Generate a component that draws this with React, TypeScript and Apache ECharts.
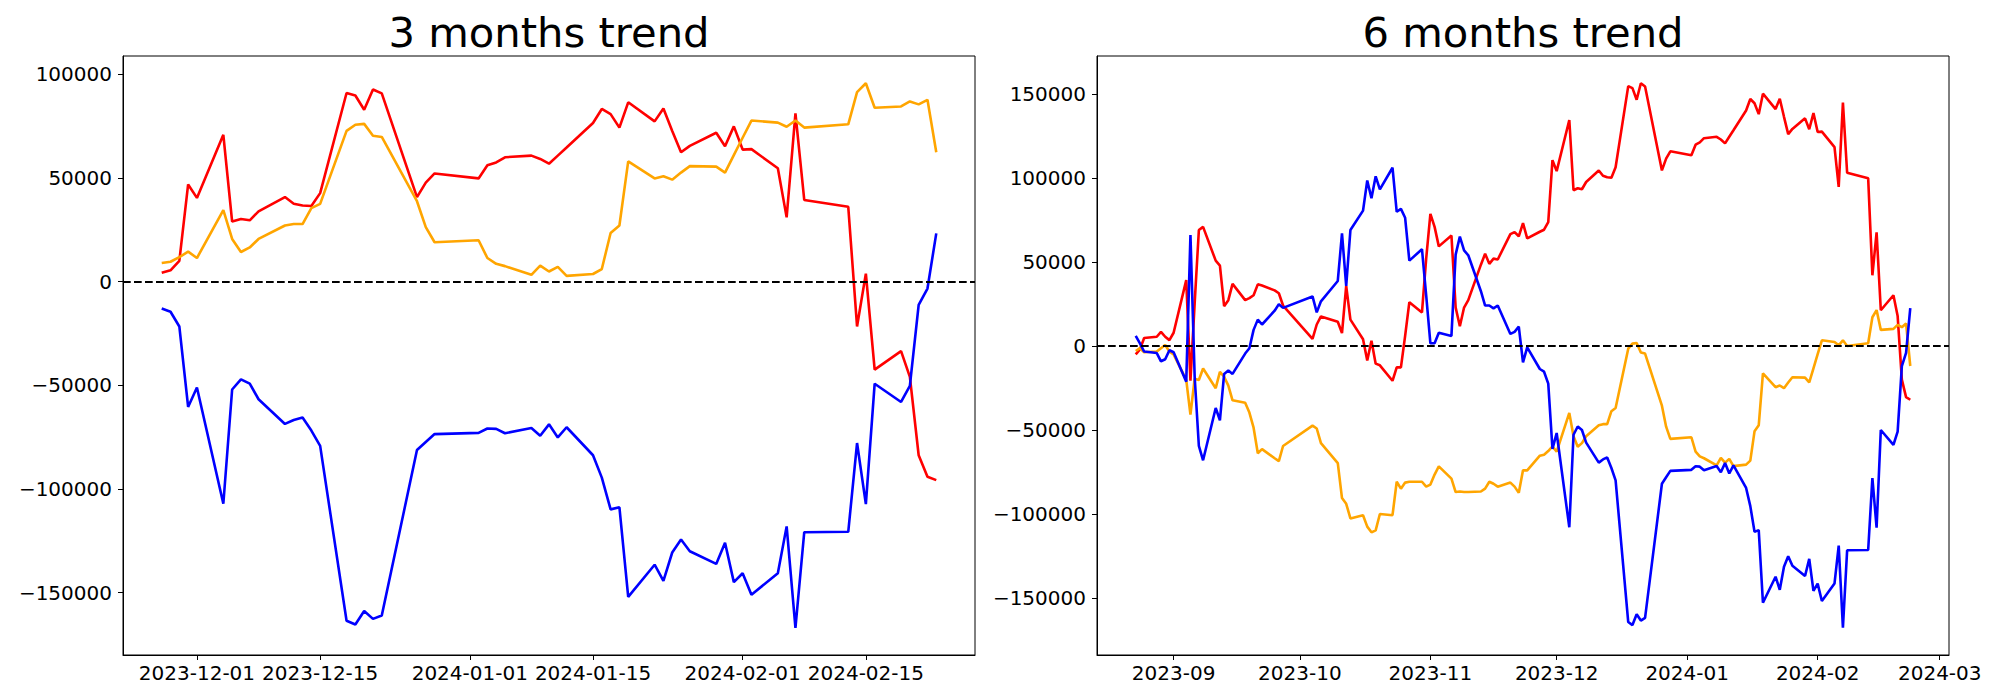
import React, { useEffect, useRef } from "react";
import * as echarts from "echarts";

// ---------- data: 3 months ----------
const dates3m = [
  "2023-11-27", "2023-11-28", "2023-11-29", "2023-11-30", "2023-12-01",
  "2023-12-04", "2023-12-05", "2023-12-06", "2023-12-07", "2023-12-08",
  "2023-12-11", "2023-12-12", "2023-12-13", "2023-12-14", "2023-12-15",
  "2023-12-18", "2023-12-19", "2023-12-20", "2023-12-21", "2023-12-22",
  "2023-12-26", "2023-12-27", "2023-12-28",
  "2024-01-02", "2024-01-03", "2024-01-04", "2024-01-05",
  "2024-01-08", "2024-01-09", "2024-01-10", "2024-01-11", "2024-01-12",
  "2024-01-15", "2024-01-16", "2024-01-17", "2024-01-18", "2024-01-19",
  "2024-01-22", "2024-01-23", "2024-01-24", "2024-01-25", "2024-01-26",
  "2024-01-29", "2024-01-30", "2024-01-31", "2024-02-01", "2024-02-02",
  "2024-02-05", "2024-02-06", "2024-02-07", "2024-02-08",
  "2024-02-13", "2024-02-14", "2024-02-15", "2024-02-16",
  "2024-02-19", "2024-02-20", "2024-02-21", "2024-02-22", "2024-02-23",
];
const red3m = [
  4300, 5500, 10000, 46900, 40400, 70800, 29000, 30200, 29600, 33900,
  40800, 37600, 36700, 36500, 42700, 91000, 89800, 82900, 92700, 90800,
  40800, 47800, 52200, 49800, 56100, 57500, 60000, 60800, 59200, 56900,
  60800, 64700, 76500, 83300, 80800, 74300, 86500, 77300, 83500, 72700,
  62400, 65500, 71800, 65300, 74900, 63700, 63900, 54700, 31000, 81200,
  39400, 36100, -21600, 3900, -42400, -33500, -45900, -83700, -94100, -95700,
];
const orange3m = [
  9000, 9600, 11800, 14500, 11400, 34500, 20600, 14300, 16500, 20600,
  27100, 27800, 27800, 35500, 37500, 72700, 75700, 76100, 70400, 69800,
  38800, 26300, 19000, 20000, 11400, 8600, 7500, 3300, 7700, 4900,
  7100, 2800, 3700, 6100, 23500, 27100, 58000, 49800, 50800, 49200,
  52600, 55700, 55500, 52600, 61000, 69400, 77700, 76700, 74700, 77700,
  74300, 75900, 91400, 95700, 83900, 84500, 86900, 85500, 87700, 62400,
];
const blue3m = [
  -12900, -14500, -21600, -60400, -51000, -107100, -52000, -47100, -49200, -56700,
  -68600, -66700, -65500, -71800, -79200, -163500, -165300, -158800, -162600, -161000,
  -81200, -77300, -73500, -72900, -70800, -71000, -73100, -70600, -74300, -68800,
  -75100, -70200, -83700, -94500, -109800, -108800, -152000, -136500, -144300, -130600,
  -124300, -130000, -136100, -125900, -144900, -140600, -151000, -140600, -118000, -166900,
  -120800, -120600, -77800, -107300, -49200, -58000, -50200, -11200, -3300, 23300,
];

// ---------- data: 6 months ----------
const dates6mHead = [
  "2023-08-23", "2023-08-24", "2023-08-25",
  "2023-08-28", "2023-08-29", "2023-08-30", "2023-08-31", "2023-09-01",
  "2023-09-04", "2023-09-05", "2023-09-06", "2023-09-07", "2023-09-08",
  "2023-09-11", "2023-09-12", "2023-09-13", "2023-09-14", "2023-09-15",
  "2023-09-18", "2023-09-19", "2023-09-20", "2023-09-21", "2023-09-22",
  "2023-09-25", "2023-09-26", "2023-09-27",
  "2023-10-04", "2023-10-05", "2023-10-06",
  "2023-10-10", "2023-10-11", "2023-10-12", "2023-10-13",
  "2023-10-16", "2023-10-17", "2023-10-18", "2023-10-19", "2023-10-20",
  "2023-10-23", "2023-10-24", "2023-10-25", "2023-10-26", "2023-10-27",
  "2023-10-30", "2023-10-31", "2023-11-01", "2023-11-02", "2023-11-03",
  "2023-11-06", "2023-11-07", "2023-11-08", "2023-11-09", "2023-11-10",
  "2023-11-13", "2023-11-14", "2023-11-15", "2023-11-16", "2023-11-17",
  "2023-11-20", "2023-11-21", "2023-11-22", "2023-11-23", "2023-11-24",
];
const dates6m = [...dates6mHead, ...dates3m];
const red6m = [
  -4900, -1900, 4900, 5600, 8500, 5600, 3600, 8000, 39300, -20600,
  25500, 69100, 71000, 50900, 48000, 23800, 27400, 37100, 27400, 28600,
  30300, 36800, 36100, 33200, 31500, 24200, 4400, 12900, 17700, 14500,
  7800, 35900, 15800, 4100, -8500, 3200, -10400, -11400, -20600, -12600,
  -12600, 6100, 26200, 20100, 52100, 78800, 71000, 59400, 65900, 23000,
  11900, 23000, 27400, 48500, 55000, 49000, 52100, 51600, 66700, 67900,
  65400, 73200, 64200,
  68100, 69300, 73800, 110700, 104200, 134600, 92800, 94000, 93400, 97700,
  104600, 101400, 100500, 100300, 106500, 154800, 153600, 146700, 156500, 154600,
  104600, 111600, 116000, 113600, 119900, 121300, 123800, 124600, 123000, 120700,
  124600, 128500, 140300, 147100, 144600, 138100, 150300, 141100, 147300, 136500,
  126200, 129300, 135600, 129100, 138700, 127500, 127700, 118500, 94800, 145000,
  103200, 99900, 42200, 67700, 21400, 30300, 17900, -19900, -30300, -31900,
];
const orange6m = [
  -2900, -1200, -3600, -3200, -1200, 700, -3200, -4900, -20100, -40700,
  -19400, -20100, -13300, -25000, -15300, -18200, -23500, -32200, -33700, -39500,
  -48500, -63700, -61300, -66700, -68400, -59400, -47300, -49000, -57700, -69600,
  -90400, -93800, -102500, -100600, -107400, -110800, -109600, -99900, -100600, -80700,
  -84800, -81200, -80700, -80700, -83600, -82400, -76400, -71500, -78800, -86800,
  -86500, -86800, -86800, -86500, -84800, -80700, -81900, -83600, -81200, -83600,
  -87300, -73900, -73900,
  -65200, -64600, -62400, -59700, -62800, -39700, -53600, -59900, -57700, -53600,
  -47100, -46400, -46400, -38700, -36800, -1500, 1500, 1900, -3800, -4400,
  -35400, -47900, -55200, -54200, -62800, -65600, -66700, -70900, -66500, -69300,
  -67100, -71400, -70500, -68100, -50700, -47100, -16200, -24400, -23400, -25000,
  -21600, -18500, -18700, -21600, -13200, -4800, 3500, 2500, 500, 3500,
  100, 1700, 17200, 21500, 9700, 10300, 12700, 11300, 13500, -11800,
];
const blue6m = [
  6100, 1700, -3200, -4100, -9000, -7800, -2400, -3600, -21100, 66200,
  -18200, -59400, -67900, -36800, -44100, -16500, -14500, -16500, -4400, -1200,
  9700, 15800, 12900, 21100, 25000, 22800, 29600, 20100, 26700, 38800,
  67100, 35900, 69100, 80700, 98600, 88000, 101100, 93300, 106200, 80000,
  81700, 76400, 50900, 57700, 30300, 1700, 1700, 8000, 6100, 54500,
  65200, 57000, 54100, 32700, 24200, 24200, 22500, 24200, 7300, 8500,
  11600, -9700, -700,
  -13600, -15200, -22300, -61100, -51700, -107800, -52700, -47800, -49900, -57400,
  -69300, -67400, -66200, -72500, -79900, -164200, -166000, -159500, -163300, -161700,
  -81900, -78000, -74200, -73600, -71500, -71700, -73800, -71300, -75000, -69500,
  -75800, -70900, -84400, -95200, -110500, -109500, -152700, -137200, -145000, -131300,
  -125000, -130700, -136800, -126600, -145600, -141300, -151700, -141300, -118700, -167600,
  -121500, -121300, -78500, -108000, -49900, -58700, -50900, -11900, -4000, 22600,
];

// ---------- ticks / labels ----------
const xTicks3m = ["2023-12-01", "2023-12-15", "2024-01-01", "2024-01-15", "2024-02-01", "2024-02-15"];
const xTicks6m = ["2023-09-01", "2023-10-01", "2023-11-01", "2023-12-01", "2024-01-01", "2024-02-01", "2024-03-01"];
const yTicks3m = [-150000, -100000, -50000, 0, 50000, 100000];
const yTicks6m = [-150000, -100000, -50000, 0, 50000, 100000, 150000];
const titles = ["3 months trend", "6 months trend"];
const seriesColors = ["#ff0000", "#ffa500", "#0000ff"];

const FONT = "DejaVu Sans";

const toTs = (s: string) => {
  const [y, m, d] = s.split("-").map(Number);
  return Date.UTC(y, m - 1, d);
};
const pad2 = (n: number) => String(n).padStart(2, "0");
const fmtDay = (v: number) => {
  const d = new Date(v);
  return `${d.getUTCFullYear()}-${pad2(d.getUTCMonth() + 1)}-${pad2(d.getUTCDate())}`;
};
const fmtMonth = (v: number) => {
  const d = new Date(v);
  return `${d.getUTCFullYear()}-${pad2(d.getUTCMonth() + 1)}`;
};
const fmtNum = (v: number) => (v < 0 ? "\u2212" + Math.abs(v) : String(v));

function dataRange(arrs: number[][]) {
  let lo = Infinity;
  let hi = -Infinity;
  arrs.forEach((a) => a.forEach((v) => { lo = Math.min(lo, v); hi = Math.max(hi, v); }));
  const m = (hi - lo) * 0.05;
  return [lo - m, hi + m];
}

function buildPanel(
  idx: number,
  dates: string[],
  vals: number[][],
  xTicks: string[],
  yTicks: number[],
  fmtX: (v: number) => string
) {
  const ts = dates.map(toTs);
  const span = ts[ts.length - 1] - ts[0];
  const [yMin, yMax] = dataRange(vals);
  const tickStyle = { show: true, length: 5, inside: false, lineStyle: { color: "#000", width: 1 } };
  const labelBase = { fontSize: 20, fontFamily: FONT, color: "#000", showMinLabel: true, showMaxLabel: true, hideOverlap: false };
  const xAxis = {
    type: "value",
    gridIndex: idx,
    min: ts[0] - span * 0.05,
    max: ts[ts.length - 1] + span * 0.05,
    axisLine: { show: true, onZero: false, lineStyle: { color: "#000", width: 1 } },
    axisTick: { ...tickStyle, customValues: xTicks.map(toTs) },
    axisLabel: { ...labelBase, margin: 8, customValues: xTicks.map(toTs), formatter: fmtX },
    splitLine: { show: false },
  };
  const yAxis = {
    type: "value",
    gridIndex: idx,
    min: yMin,
    max: yMax,
    axisLine: { show: true, onZero: false, lineStyle: { color: "#000", width: 1 } },
    axisTick: { ...tickStyle, customValues: yTicks },
    axisLabel: { ...labelBase, margin: 11, customValues: yTicks, formatter: fmtNum },
    splitLine: { show: false },
  };
  const series = vals.map((arr, k) => ({
    type: "line",
    xAxisIndex: idx,
    yAxisIndex: idx,
    data: ts.map((t, i) => [t, arr[i]]),
    showSymbol: false,
    symbol: "none",
    lineStyle: { width: 2.6, color: seriesColors[k] },
    itemStyle: { color: seriesColors[k] },
    z: 3 + k,
    silent: true,
    ...(k === 0
      ? {
          markLine: {
            silent: true,
            symbol: "none",
            label: { show: false },
            lineStyle: { color: "#000", width: 2, type: [7.7, 3.3] },
            data: [{ yAxis: 0 }],
            z: 10,
          },
        }
      : {}),
  }));
  return { xAxis, yAxis, series };
}

export default function App() {
  const ref = useRef<HTMLDivElement>(null);
  useEffect(() => {
    if (!ref.current) return;
    const chart = echarts.init(ref.current, undefined, { renderer: "svg" });
    const p1 = buildPanel(0, dates3m, [red3m, orange3m, blue3m], xTicks3m, yTicks3m, fmtDay);
    const p2 = buildPanel(1, dates6m, [red6m, orange6m, blue6m], xTicks6m, yTicks6m, fmtMonth);
    const gridBase = {
      top: 56,
      width: 852,
      height: 599,
      show: true,
      borderColor: "#000",
      borderWidth: 1,
      backgroundColor: "transparent",
      containLabel: false,
      outerBoundsMode: "none",
    };
    chart.setOption({
      animation: false,
      backgroundColor: "#ffffff",
      textStyle: { fontFamily: FONT },
      grid: [
        { ...gridBase, left: 123 },
        { ...gridBase, left: 1097 },
      ],
      xAxis: [p1.xAxis, p2.xAxis],
      yAxis: [p1.yAxis, p2.yAxis],
      series: [...p1.series, ...p2.series],
      graphic: [
        {
          type: "text",
          x: 549,
          y: 32,
          style: {
            text: titles[0],
            font: `41.7px "${FONT}"`,
            fill: "#000",
            textAlign: "center",
            textVerticalAlign: "middle",
            align: "center",
            verticalAlign: "middle",
          },
        },
        {
          type: "text",
          x: 1523,
          y: 32,
          style: {
            text: titles[1],
            font: `41.7px "${FONT}"`,
            fill: "#000",
            textAlign: "center",
            textVerticalAlign: "middle",
            align: "center",
            verticalAlign: "middle",
          },
        },
      ],
    });
    return () => chart.dispose();
  }, []);
  return (
    <div
      ref={ref}
      style={{ position: "fixed", left: 0, top: 0, width: 2000, height: 700, background: "#fff" }}
    />
  );
}
